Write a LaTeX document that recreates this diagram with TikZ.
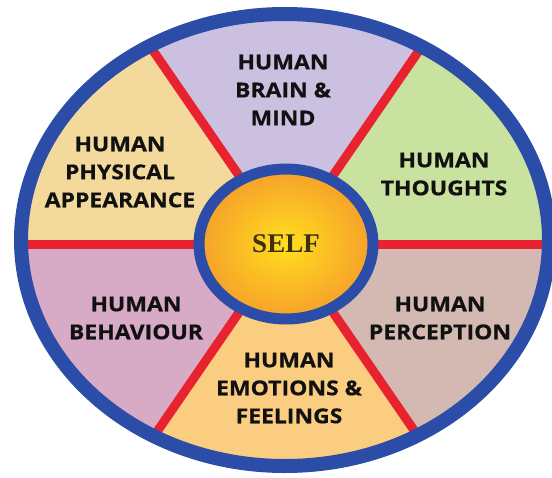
\documentclass[tikz,border=0pt]{standalone}
\usepackage{fontspec}
\setmainfont{Open Sans}
\newfontfamily\lblfont{Open Sans}[FakeStretch=1.12, BoldFeatures={FakeBold=0.6}]
\newfontfamily\selffont{Liberation Serif}
\usetikzlibrary{calc,shapes.geometric}
\definecolor{ringblue}{HTML}{2B4DA8}
\definecolor{spokered}{HTML}{E8222E}
\definecolor{cLav}{HTML}{CBC0E0}
\definecolor{cGreen}{HTML}{C9E2A0}
\definecolor{cTaupe}{HTML}{D3B9B1}
\definecolor{cOrange}{HTML}{FBCD80}
\definecolor{cMauve}{HTML}{D7AAC6}
\definecolor{cWheat}{HTML}{F3DA9C}
\definecolor{selfYellow}{HTML}{FFDF1E}
\definecolor{selfOrange}{HTML}{F6A02A}
\definecolor{selfText}{HTML}{3E300C}
\definecolor{txt}{HTML}{111111}
\tikzset{
  spoke/.style={spokered, line width=9pt},
  lbl/.style={align=center, text=txt, inner sep=0pt,
    font=\lblfont\bfseries\fontsize{20.5}{28}\selectfont},
  hub/.style={ellipse, draw=ringblue, line width=11pt, inner sep=0pt,
    minimum width=174pt, minimum height=150pt,
    inner color=selfYellow, outer color=selfOrange,
    text=selfText, font=\selffont\bfseries\fontsize{27}{30}\selectfont},
  rim/.style={draw=ringblue, line width=14pt}
}
\begin{document}
\begin{tikzpicture}[x=1pt,y=-1pt]
\useasboundingbox (0,0) rectangle (552,477);
\fill[white] (0,0) rectangle (552,477);
\clip (0,0) rectangle (552,477);
\coordinate (c) at (286,244);
\coordinate (e) at (285,240);
\foreach \a [count=\i] in {0,55.5,124.5,180,235.5,304.5}
  \coordinate (s\i) at ($(c)+(\a:420)$);
\begin{scope}
  \clip (e) ellipse [x radius=264, y radius=226];
  \fill[cGreen] (c) -- (s1) -- ($(c)+(-27.75:420)$) -- (s6) -- cycle;
  \fill[cTaupe] (c) -- (s1) -- ($(c)+(27.75:420)$) -- (s2) -- cycle;
  \fill[cOrange] (c) -- (s2) -- ($(c)+(90:420)$) -- (s3) -- cycle;
  \fill[cMauve] (c) -- (s3) -- ($(c)+(152.25:420)$) -- (s4) -- cycle;
  \fill[cWheat] (c) -- (s4) -- ($(c)+(207.75:420)$) -- (s5) -- cycle;
  \fill[cLav] (c) -- (s5) -- ($(c)+(270:420)$) -- (s6) -- cycle;
  \foreach \i in {1,...,6} \draw[spoke] (c) -- (s\i);
\end{scope}
\draw[rim] (e) ellipse [x radius=264, y radius=226];
\node[hub] (self) at (c) {SELF};
\node[lbl] (brain) at (283,90) {HUMAN\\BRAIN \&\\MIND};
\node[lbl] (phys) at (120,172) {HUMAN\\PHYSICAL\\APPEARANCE};
\node[lbl] (thought) at (444,174) {HUMAN\\THOUGHTS};
\node[lbl] (behav) at (136,318) {HUMAN\\BEHAVIOUR};
\node[lbl] (percep) at (440,318) {HUMAN\\PERCEPTION};
\node[lbl] (emo) at (289,388) {HUMAN\\EMOTIONS \&\\FEELINGS};
\end{tikzpicture}
\end{document}
